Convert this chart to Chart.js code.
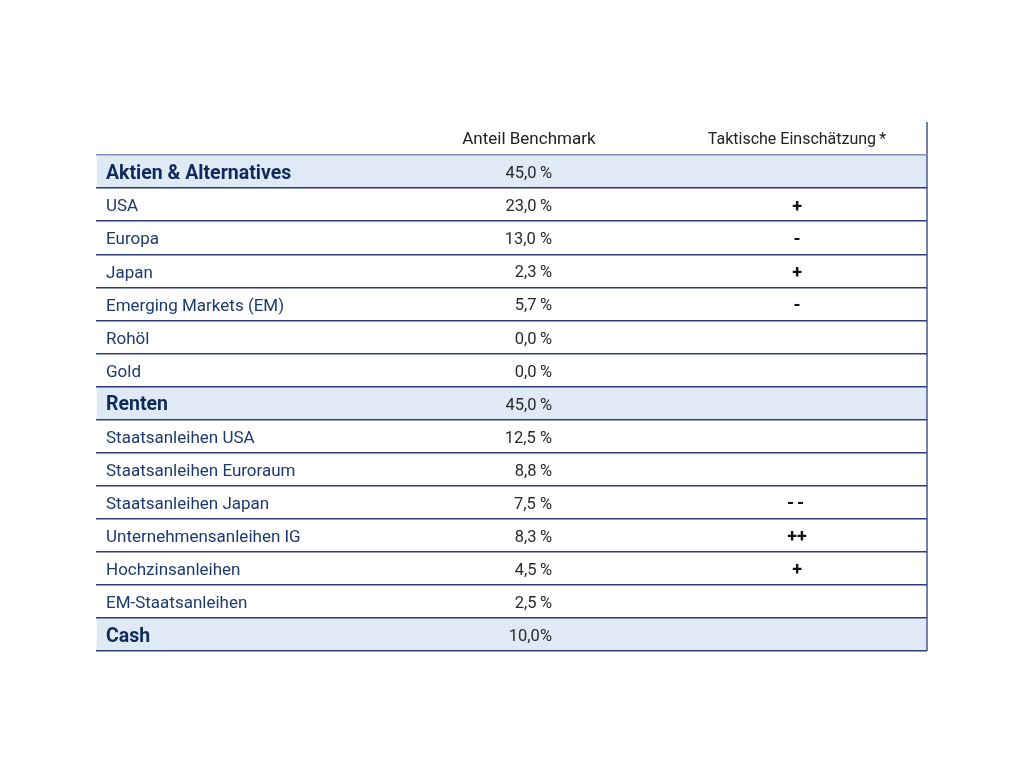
<!DOCTYPE html>
<html>
<head>
<meta charset="utf-8">
<script src="https://cdn.jsdelivr.net/npm/chart.js@4.4.1/dist/chart.umd.min.js"></script>
<style>
html,body{margin:0;padding:0;background:#fff;}
canvas{display:block;}
</style>
</head>
<body>
<canvas id="c" width="1024" height="768"></canvas>
<script>
// ---- data ----
const columnHeaders = ['Anteil Benchmark', 'Taktische Einschätzung\u2009*'];
const rowLabels = ['', 'Aktien & Alternatives', 'USA', 'Europa', 'Japan', 'Emerging Markets (EM)', 'Rohöl', 'Gold',
  'Renten', 'Staatsanleihen USA', 'Staatsanleihen Euroraum', 'Staatsanleihen Japan', 'Unternehmensanleihen IG',
  'Hochzinsanleihen', 'EM-Staatsanleihen', 'Cash'];
const groupRows = [false, true, false, false, false, false, false, false, true, false, false, false, false, false, false, true];
const benchmark = ['', '45,0\u2009%', '23,0\u2009%', '13,0 %', '2,3\u2009%', '5,7\u2009%', '0,0\u2009%', '0,0\u2009%',
  '45,0\u2009%', '12,5 %', '8,8\u2009%', '7,5 %', '8,3\u2009%', '4,5\u2009%', '2,5\u2009%', '10,0%'];
const tactical = ['', '', '+', '-', '+', '-', '', '', '', '', '', '--', '++', '+', '', ''];

// ---- layout / style constants ----
const COL_VALUE_RIGHT = 0.5487;
const COL_TACT_CENTER = 0.8436;
const COL_HEAD1_CENTER = 0.5209;
const COL_HEAD2_CENTER = 0.8436;
const NAVY = '#2c3f75';
const FONT = 'Roboto, "Liberation Sans", sans-serif';

const groupBars = rowLabels.map((r, i) => groupRows[i] ? [0, 1] : null);

const tablePlugin = {
  id: 'tableText',
  afterDraw(chart) {
    const ctx = chart.ctx;
    const xs = chart.scales.x, ys = chart.scales.y;
    ctx.save();
    ctx.textBaseline = 'middle';
    // header
    ctx.fillStyle = '#222';
    ctx.textAlign = 'center';
    ctx.font = '17px ' + FONT;
    const yh = ys.getPixelForValue(0) + 1.5;
    ctx.fillText(columnHeaders[0], xs.getPixelForValue(COL_HEAD1_CENTER), yh);
    ctx.font = '16px ' + FONT;
    ctx.fillText(columnHeaders[1], xs.getPixelForValue(COL_HEAD2_CENTER), yh);
    // values
    for (let i = 0; i < rowLabels.length; i++) {
      const y = ys.getPixelForValue(i) + 2.5;
      if (benchmark[i]) {
        ctx.textAlign = 'right';
        ctx.font = '16.5px ' + FONT;
        ctx.fillStyle = '#2a2a2a';
        ctx.fillText(benchmark[i], xs.getPixelForValue(COL_VALUE_RIGHT), y);
      }
      if (tactical[i]) {
        ctx.textAlign = 'center';
        ctx.font = 'bold 18px ' + FONT;
        ctx.fillStyle = '#111';
        ctx.letterSpacing = tactical[i] === '--' ? '3px' : '0px';
        ctx.fillText(tactical[i], xs.getPixelForValue(COL_TACT_CENTER), y);
        ctx.letterSpacing = '0px';
      }
    }
    ctx.restore();
  }
};

new Chart(document.getElementById('c'), {
  type: 'bar',
  data: {
    labels: rowLabels,
    datasets: [{
      data: groupBars,
      backgroundColor: '#dfeaf6',
      borderWidth: 0,
      barPercentage: 1,
      categoryPercentage: 1
    }]
  },
  options: {
    indexAxis: 'y',
    responsive: false,
    devicePixelRatio: 1,
    animation: false,
    events: [],
    layout: { padding: { left: 76, right: 97, top: 122, bottom: 117 } },
    plugins: { legend: { display: false }, tooltip: { enabled: false }, title: { display: false } },
    scales: {
      x: {
        type: 'linear', min: 0, max: 1, position: 'bottom',
        border: { display: false },
        ticks: { display: false, stepSize: 1, z: 1 },
        grid: {
          z: 1,
          drawTicks: false,
          lineWidth: 2,
          color: (c) => (c.tick && c.tick.value === 1) ? '#7482ab' : 'rgba(0,0,0,0)'
        }
      },
      y: {
        type: 'category', position: 'left',
        border: { display: false },
        grid: {
          z: 1,
          offset: true,
          drawTicks: false,
          lineWidth: 1.5,
          color: (c) => {
            if (c.type !== 'tick') return NAVY;
            if (c.index === 0) return 'rgba(0,0,0,0)';
            if (c.index === 1) return '#8291b6';
            return NAVY;
          }
        },
        ticks: {
          z: 1,
          mirror: true,
          padding: 10,
          labelOffset: 2.5,
          autoSkip: false,
          color: (c) => groupRows[c.index] ? '#102a5c' : '#1d3a70',
          font: (c) => groupRows[c.index]
            ? { family: FONT, size: 19.5, weight: 'bold' }
            : { family: FONT, size: 17, weight: 'normal' }
        }
      }
    }
  },
  plugins: [tablePlugin]
});
</script>
</body>
</html>
